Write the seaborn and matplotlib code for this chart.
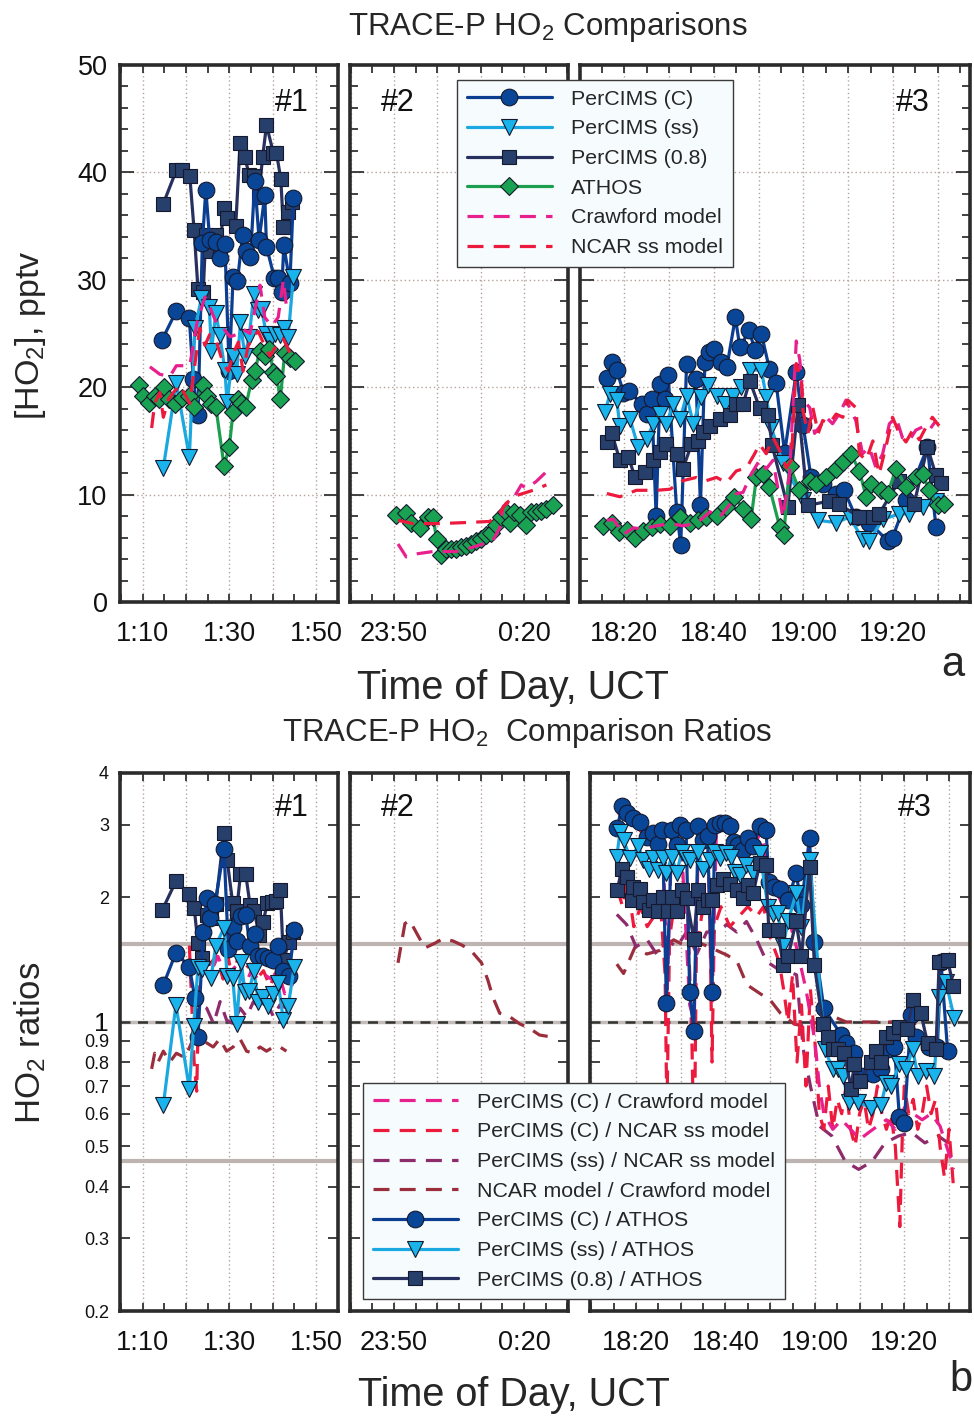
import numpy as np
import matplotlib
matplotlib.use('Agg')
import matplotlib.pyplot as plt
from matplotlib.lines import Line2D
from matplotlib.ticker import FixedLocator, FixedFormatter, MultipleLocator, NullLocator
import seaborn as sns

sns.set_style('ticks')
plt.rcParams['font.family'] = ['Liberation Sans', 'DejaVu Sans']
plt.rcParams['mathtext.default'] = 'regular'

# ---------------- top: HO2 mixing ratios (pptv) ----------------
# flight #1, minutes after 01:00
c1_t = [14.5, 17.8, 20.8, 21.7, 22.8, 23.8, 24.6, 25.5, 26.9, 27.8, 29.0, 30.0, 30.9, 31.9, 33.1, 33.8, 34.9,
        35.9, 36.9, 38.2, 38.6, 40.4, 41.3, 42.1, 42.6, 44.0, 44.8]
c1_v = [24.4, 27.1, 26.4, 20.8, 17.4, 33.4, 38.4, 33.7, 33.5, 32.0, 33.3, 21.5, 30.3, 29.9, 34.2, 32.7, 32.1,
        39.2, 33.7, 37.9, 33.1, 30.2, 30.2, 28.9, 33.2, 29.7, 37.6]
ss1_t = [14.8, 17.8, 20.8, 22.1, 23.6, 25.4, 25.9, 26.9, 27.8, 29.0, 29.5, 30.8, 31.7, 32.6, 33.6, 34.6, 35.7,
         36.7, 37.5, 38.5, 39.4, 40.5, 41.7, 42.6, 43.6, 44.8]
ss1_v = [12.5, 20.4, 13.5, 25.5, 28.3, 27.5, 23.4, 26.9, 24.9, 21.6, 18.6, 22.9, 21.2, 26.1, 22.9, 24.7, 28.7,
         27.2, 27.3, 25.0, 24.4, 25.0, 24.9, 25.5, 24.7, 30.3]
sq1_t = [14.8, 17.8, 19.2, 20.9, 21.9, 22.8, 24.0, 24.6, 25.5, 26.9, 27.8, 28.8, 29.4, 31.5, 32.5, 33.6, 34.6,
         35.8, 36.8, 37.7, 38.6, 40.2, 40.9, 41.9, 42.5, 43.6, 44.6]
sq1_v = [37.1, 40.2, 40.2, 39.7, 34.6, 29.1, 28.9, 34.2, 32.7, 34.2, 33.0, 36.7, 35.8, 35.0, 42.7, 41.4, 39.8,
         39.7, 37.7, 41.4, 44.4, 41.8, 41.8, 39.4, 34.9, 36.3, 37.2]
at1_t = [9.2, 10.2, 11.5, 12.8, 13.8, 14.9, 16.2, 17.5, 19.0, 20.8, 21.9, 24.0, 24.8, 25.8, 26.9, 28.8, 30.0,
         30.9, 32.1, 32.8, 33.8, 35.2, 35.9, 37.1, 38.2, 39.2, 40.2, 40.9, 41.8, 42.8, 44.0, 45.2]
at1_v = [20.2, 19.2, 18.5, 19.2, 18.9, 20.0, 18.9, 18.4, 19.0, 19.2, 18.2, 20.2, 19.2, 18.4, 18.2, 12.7, 14.4,
         17.7, 18.9, 18.5, 18.2, 20.7, 21.5, 23.4, 22.9, 23.6, 21.4, 21.0, 18.9, 23.2, 22.7, 22.4]
cr1_t = [11.7, 14.0, 16.3, 17.8, 20.9, 22.5, 24.4, 25.5, 27.1, 28.6, 30.2, 31.7, 33.2, 34.8, 36.3, 37.1, 38.2,
         39.8, 41.3, 42.5, 43.2, 44.4]
cr1_v = [21.9, 21.2, 21.0, 22.0, 22.0, 25.9, 28.4, 27.5, 25.9, 25.5, 24.7, 24.9, 25.4, 25.0, 27.9, 29.5, 26.5,
         25.7, 26.5, 30.0, 27.5, 27.2]
nc1_t = [12.1, 12.8, 14.0, 14.8, 16.0, 17.1, 18.6, 20.9, 22.1, 23.2, 24.4, 25.5, 27.1, 28.6, 29.8, 31.0, 32.1,
         33.2, 34.4, 35.5, 36.7, 37.8, 39.4, 40.9, 42.5, 44.0]
nc1_v = [16.2, 18.5, 19.5, 17.2, 18.9, 19.5, 20.2, 18.5, 22.2, 25.5, 23.9, 24.9, 24.2, 22.2, 21.5, 23.2, 24.2,
         21.5, 23.9, 24.7, 25.2, 24.2, 22.9, 23.9, 24.5, 23.2]

# flight #2, minutes after 23:00 (60 = 0:00)
at2_t = [50.5, 52.8, 54.0, 55.9, 57.8, 59.0, 59.8, 60.9, 62.1, 63.2, 64.4, 65.5, 66.7, 67.8, 69.0, 70.2, 71.3,
         72.5, 73.6, 74.8, 75.9, 76.7, 77.8, 79.0, 80.5, 81.7, 82.8, 84.0, 85.2, 86.7]
at2_v = [8.1, 8.3, 7.4, 6.9, 7.9, 7.9, 5.9, 4.4, 4.9, 4.9, 4.9, 5.1, 5.2, 5.4, 5.7, 5.9, 6.2,
         6.4, 7.2, 7.9, 8.4, 7.4, 8.4, 8.1, 7.2, 8.4, 8.4, 8.5, 8.7, 9.0]
cr2_t = [50.9, 52.8, 55.5, 59.0, 64.4, 68.2, 70.5, 72.8, 74.4, 75.2, 77.5, 79.4, 80.5, 82.8, 85.9]
cr2_v = [5.4, 4.2, 4.5, 4.7, 4.7, 5.1, 5.4, 5.7, 6.9, 8.9, 9.6, 10.9, 10.6, 11.2, 12.4]
nc2_t = [50.9, 54.4, 60.5, 66.7, 72.1, 74.4, 75.9, 78.2, 82.1, 85.2]
nc2_v = [7.6, 7.3, 7.3, 7.4, 7.5, 8.3, 9.2, 9.9, 10.4, 10.9]

# flight #3, minutes after 18:00
c3_t = [16.1, 17.2, 18.3, 19.8, 21.1, 23.9, 25.0, 26.1, 27.1, 28.0, 29.1, 29.8, 31.7, 32.6, 33.9, 36.0, 37.0,
        38.0, 39.0, 40.0, 41.7, 42.9, 44.8, 45.8, 47.9, 49.1, 50.6, 52.4, 53.9, 55.8, 58.4, 59.9, 61.7, 64.3,
        67.3, 69.1, 71.7, 74.7, 78.8, 79.9, 83.0, 87.7, 89.6]
c3_v = [20.9, 22.3, 21.6, 19.5, 19.6, 18.4, 17.5, 18.9, 8.0, 20.3, 18.9, 21.1, 8.4, 5.3, 22.2, 20.8, 9.0,
        22.3, 23.3, 23.6, 22.3, 21.9, 26.5, 23.7, 25.3, 23.5, 25.0, 21.7, 20.4, 13.9, 21.4, 16.5, 11.6, 11.0,
        10.1, 10.4, 7.9, 7.4, 5.7, 6.0, 9.5, 14.4, 7.0]
ss3_t = [15.7, 16.8, 18.3, 19.0, 21.3, 23.1, 25.0, 26.5, 28.0, 29.4, 30.9, 32.4, 33.9, 35.4, 37.2, 38.7, 40.6,
         42.4, 44.3, 46.1, 48.0, 50.6, 51.7, 52.8, 55.4, 59.9, 63.2, 67.3, 70.3, 73.2, 74.7, 77.7, 81.4, 83.6,
         86.6, 89.6]
ss3_v = [17.7, 19.4, 18.8, 16.4, 17.0, 14.4, 15.2, 16.6, 17.5, 16.6, 18.4, 17.0, 19.2, 16.6, 19.1, 20.2, 19.2,
         18.4, 19.2, 20.0, 21.6, 21.6, 19.1, 16.3, 12.9, 9.5, 7.6, 7.4, 7.9, 5.9, 5.7, 7.7, 8.2, 8.2,
         8.8, 9.4]
sq3_t = [16.1, 17.2, 19.0, 20.9, 22.4, 24.6, 26.5, 28.0, 29.4, 31.7, 33.1, 35.0, 36.5, 37.6, 39.1, 41.3, 43.5,
         45.0, 46.5, 48.0, 50.2, 52.1, 53.0, 56.5, 58.8, 61.0, 65.8, 68.0, 72.5, 75.5, 76.9, 81.4, 84.7, 87.7,
         89.6, 90.7]
sq3_v = [14.9, 15.7, 13.2, 13.5, 11.6, 12.1, 13.2, 14.0, 14.7, 13.8, 12.4, 14.7, 15.0, 15.8, 16.4, 17.0, 17.4,
         18.4, 18.4, 20.6, 18.1, 17.4, 14.6, 8.8, 18.3, 9.0, 9.4, 9.1, 7.9, 7.9, 8.2, 11.3, 9.1, 14.4,
         11.8, 11.1]
at3_t = [15.3, 17.2, 18.7, 20.5, 22.4, 24.2, 26.1, 28.0, 30.2, 32.4, 34.6, 36.5, 38.3, 40.6, 42.8, 44.6, 46.5,
         48.3, 49.5, 51.0, 52.4, 54.7, 55.6, 56.9, 59.1, 61.4, 62.9, 65.1, 67.3, 68.8, 70.6, 72.5, 74.0, 75.1,
         77.3, 78.8, 80.7, 82.9, 85.1, 86.6, 88.1, 90.0, 91.4]
at3_v = [7.1, 7.4, 6.5, 6.7, 6.0, 6.6, 7.0, 7.3, 7.1, 7.9, 7.4, 7.6, 7.9, 8.0, 8.8, 9.8, 8.7,
         7.7, 11.6, 11.9, 10.7, 7.0, 6.2, 12.7, 10.4, 11.3, 11.0, 11.6, 12.4, 13.0, 13.8, 12.2, 9.8, 11.0,
         10.4, 10.1, 12.4, 10.7, 11.6, 11.9, 10.4, 9.0, 9.1]
cr3_t = [16.1, 17.6, 19.8, 22.0, 24.2, 27.2, 30.2, 33.1, 36.1, 39.1, 41.3, 43.6, 45.0, 46.5, 48.3, 50.2, 51.7,
         53.2, 55.4, 56.9, 58.4, 59.2, 59.9, 61.4, 62.5, 63.6, 65.1, 66.5, 68.0, 69.5, 71.7, 73.2, 74.7, 76.2,
         77.7, 79.2, 80.7, 82.1, 83.6, 85.1, 86.6, 88.1, 89.6]
cr3_v = [7.6, 7.7, 6.3, 6.9, 6.8, 7.1, 7.3, 7.1, 7.3, 8.4, 7.9, 9.1, 10.1, 10.2, 11.9, 13.2, 12.4,
         13.2, 7.9, 11.9, 24.3, 22.5, 18.8, 18.1, 15.7, 16.3, 17.2, 16.6, 17.5, 18.8, 16.9, 13.8, 14.4, 12.5,
         13.8, 16.6, 17.2, 15.3, 15.0, 16.0, 16.3, 16.0, 16.9]
nc3_t = [16.1, 19.0, 22.7, 27.2, 30.2, 33.1, 36.1, 38.3, 40.6, 42.8, 45.0, 47.3, 49.1, 50.2, 51.7, 53.2, 54.7,
         56.2, 57.3, 58.4, 59.5, 59.9, 61.0, 62.1, 63.3, 64.3, 65.8, 67.3, 68.8, 69.9, 71.7, 72.5, 74.0, 75.5,
         76.9, 78.4, 79.9, 81.4, 82.9, 84.4, 85.9, 87.4, 88.8, 90.3]
nc3_v = [10.1, 9.8, 10.4, 10.4, 10.5, 11.3, 11.6, 11.3, 11.6, 11.1, 12.2, 12.5, 13.8, 14.7, 13.8, 15.3, 14.1,
         12.5, 13.2, 22.2, 20.6, 17.8, 15.7, 18.1, 15.7, 16.9, 16.6, 17.5, 17.2, 18.8, 18.1, 13.8, 13.2, 15.0,
         11.9, 14.4, 17.2, 15.7, 14.9, 16.0, 15.1, 16.3, 17.2, 16.4]

# ---------------- bottom: ratios ----------------
rc1_t = [14.8, 17.7, 20.8, 22.1, 22.8, 24.0, 24.8, 25.5, 26.7, 28.8, 29.8, 30.9, 31.8, 32.8, 33.8, 34.8, 36.0,
         36.7, 37.8, 39.0, 40.2, 41.3, 42.5, 43.8, 45.0]
rc1_v = [1.23, 1.47, 1.36, 1.14, 0.92, 1.65, 1.99, 1.78, 1.93, 2.62, 1.50, 1.70, 1.57, 1.80, 1.81, 1.53, 1.63,
         1.44, 1.44, 1.43, 1.41, 1.53, 1.33, 1.29, 1.67]
rss1_t = [14.8, 17.7, 20.8, 21.8, 22.8, 23.8, 25.8, 26.9, 28.8, 29.5, 30.8, 31.7, 32.8, 33.6, 34.6, 35.7, 36.7,
          37.8, 39.0, 40.2, 41.3, 42.5, 43.6, 45.0]
rss1_v = [0.63, 1.10, 0.69, 0.98, 1.36, 1.34, 1.28, 1.53, 1.69, 1.29, 1.28, 0.99, 1.40, 1.18, 1.19, 1.33, 1.12,
          1.15, 1.09, 1.17, 1.24, 1.01, 1.09, 1.36]
rsq1_t = [14.6, 17.7, 20.8, 21.9, 22.8, 23.8, 24.8, 25.9, 26.9, 28.8, 29.5, 30.8, 31.7, 32.6, 33.8, 34.8, 35.8,
          36.9, 37.8, 38.8, 39.8, 40.8, 41.8, 42.5, 43.8, 44.8]
rsq1_v = [1.87, 2.19, 2.04, 1.89, 1.55, 1.43, 1.81, 1.78, 1.93, 2.87, 2.47, 1.94, 1.85, 2.28, 2.28, 1.92, 1.85,
          1.62, 1.74, 1.94, 1.95, 1.96, 2.09, 1.41, 1.56, 1.65]
rcc1_t = [21.4, 22.8, 24.4, 25.9, 27.4, 29.0, 30.5, 32.0, 33.6, 35.1, 36.6, 38.2, 39.7, 41.3, 42.8, 44.4, 45.4]
rcc1_v = [1.38, 1.33, 1.47, 1.33, 1.44, 1.31, 1.33, 1.38, 1.22, 1.33, 1.27, 1.30, 1.27, 1.33, 1.17, 1.22, 1.30]
rcn1_t = [20.8, 21.9, 22.5, 23.1, 24.3, 25.5, 27.0, 28.6, 29.7, 30.9, 32.0, 33.2, 34.8, 36.3, 37.9, 39.4, 41.0,
          42.5, 44.1]
rcn1_v = [1.53, 0.80, 0.68, 1.33, 1.44, 1.38, 1.44, 1.27, 1.44, 1.25, 1.44, 1.33, 1.38, 1.27, 1.33, 1.22, 1.33,
          1.27, 1.33]
rsn1_t = [21.8, 23.3, 24.8, 26.4, 27.9, 29.4, 31.0, 32.5, 34.0, 35.6, 37.1, 38.6, 40.2, 41.7, 43.2]
rsn1_v = [0.99, 1.10, 1.08, 0.99, 1.12, 1.01, 0.99, 1.08, 1.03, 1.12, 1.08, 1.12, 1.03, 1.10, 1.08]
rnc1_t = [12.1, 12.8, 13.6, 14.8, 16.3, 17.8, 19.8, 21.7, 23.2, 24.8, 26.3, 27.8, 29.4, 30.9, 32.5, 34.0, 35.5,
          37.1, 38.6, 40.2, 41.7, 43.2]
rnc1_v = [0.77, 0.84, 0.80, 0.85, 0.80, 0.84, 0.82, 0.91, 0.91, 0.89, 0.87, 0.91, 0.85, 0.87, 0.91, 0.85, 0.84,
          0.87, 0.85, 0.87, 0.87, 0.85]

rnc2_t = [50.9, 52.5, 53.6, 55.2, 57.1, 59.4, 61.3, 63.6, 65.9, 68.2, 70.2, 71.7, 72.8, 74.4, 76.7, 79.0, 81.3,
          83.6, 86.3]
rnc2_v = [1.39, 1.73, 1.76, 1.64, 1.51, 1.55, 1.59, 1.57, 1.53, 1.47, 1.39, 1.26, 1.15, 1.05, 1.03, 0.99, 0.965,
          0.93, 0.92]

rc3_t = [15.8, 16.8, 17.9, 19.4, 20.9, 22.4, 23.7, 25.0, 25.9, 26.8, 28.0, 29.1, 29.8, 31.2, 32.0, 32.9, 33.9,
         35.0, 36.0, 37.0, 37.6, 38.7, 39.9, 41.0, 41.9, 42.8, 43.9, 45.1, 46.2, 47.7, 49.1, 49.7, 50.9, 52.1,
         54.0, 55.8, 57.0, 58.8, 59.9, 62.0, 65.9, 67.0, 68.8, 70.3, 72.9, 74.8, 76.3, 77.8, 78.9, 80.0, 81.5,
         82.6, 85.6, 87.4, 88.2, 89.7]
rc3_v = [2.94, 3.32, 3.20, 3.11, 3.05, 2.80, 2.87, 2.70, 2.91, 1.11, 2.91, 2.68, 2.99, 2.91, 1.18, 0.95, 2.97,
         2.75, 2.81, 1.18, 2.99, 3.02, 3.02, 2.97, 2.73, 2.68, 2.61, 2.78, 2.66, 2.97, 2.91, 2.18, 2.12, 2.10,
         1.97, 2.29, 1.92, 2.79, 1.56, 1.08, 0.93, 0.89, 0.84, 0.74, 0.75, 0.77, 0.86, 0.87, 0.59, 0.57, 1.04,
         0.92, 0.87, 0.87, 1.40, 0.85]
rss3_t = [15.7, 16.4, 17.2, 18.7, 20.5, 21.6, 22.8, 23.9, 25.0, 26.1, 26.8, 28.0, 29.1, 30.2, 31.2, 32.0, 33.9,
          35.0, 36.5, 37.6, 38.7, 40.2, 41.3, 42.1, 43.2, 44.7, 46.2, 47.7, 49.5, 50.6, 51.7, 52.9, 54.0, 55.8,
          57.0, 58.8, 62.2, 64.0, 65.1, 66.2, 67.7, 69.6, 72.6, 74.8, 75.9, 77.0, 78.9, 80.4, 81.9, 83.0, 84.8,
          86.7, 87.8, 89.3, 91.2]
rss3_v = [2.51, 2.88, 2.75, 2.49, 2.66, 2.47, 2.35, 2.49, 2.33, 2.49, 2.29, 2.51, 2.29, 2.58, 2.49, 2.47, 2.58,
          2.35, 2.47, 2.58, 2.49, 2.56, 2.51, 2.31, 2.27, 2.40, 2.29, 2.56, 1.90, 1.82, 1.83, 1.53, 1.75, 2.05,
          1.70, 2.47, 0.86, 0.77, 0.77, 0.74, 0.64, 0.64, 0.62, 0.63, 0.71, 0.70, 0.79, 0.77, 0.86, 0.74, 0.76,
          0.74, 1.15, 1.25, 1.02]
rsq3_t = [15.8, 16.8, 17.9, 19.1, 19.4, 20.9, 21.6, 22.8, 23.9, 25.0, 26.1, 27.2, 28.0, 29.1, 30.2, 31.3, 32.9,
          33.9, 35.0, 36.2, 36.9, 38.0, 39.5, 41.0, 42.5, 44.0, 45.1, 46.2, 47.7, 49.0, 49.7, 51.7, 52.9, 54.0,
          55.8, 57.0, 58.8, 59.9, 61.8, 62.9, 64.0, 65.1, 66.6, 68.1, 68.8, 70.0, 72.6, 73.7, 74.8, 75.9, 77.4,
          78.9, 80.7, 81.9, 83.7, 85.2, 87.1, 87.8, 89.7, 91.0]
rsq3_v = [2.08, 2.35, 2.24, 1.97, 2.12, 2.10, 1.95, 1.87, 1.97, 1.85, 2.01, 1.85, 2.01, 1.85, 2.08, 1.99, 1.59,
          2.08, 1.90, 1.97, 1.97, 2.14, 2.22, 2.16, 2.08, 1.99, 2.14, 2.05, 2.42, 2.39, 1.67, 1.67, 1.37, 1.44,
          1.75, 1.44, 2.37, 1.37, 0.99, 0.92, 0.86, 0.86, 0.84, 0.69, 0.79, 0.72, 0.80, 0.85, 0.80, 0.92, 0.94,
          0.97, 0.96, 1.13, 1.05, 0.89, 0.86, 1.40, 1.41, 1.22]
rcc3_t = [16.0, 18.0, 20.0, 22.0, 24.0, 26.0, 27.0, 28.0, 30.0, 32.0, 33.0, 34.0, 36.0, 37.0, 38.0, 40.0, 42.0,
          44.0, 46.0, 48.0, 50.0, 52.0, 54.0, 56.0, 58.0, 60.0, 61.0, 62.0, 64.0, 66.0, 68.0, 70.0, 72.0, 74.0,
          76.0, 78.0, 80.0, 82.0, 84.0, 86.0, 88.0, 90.0, 91.0]
rcc3_v = [3.2, 3.1, 3.0, 2.8, 2.9, 2.8, 1.2, 2.9, 2.9, 1.1, 1.0, 2.9, 2.8, 1.1, 3.0, 3.0, 2.7,
          2.7, 2.6, 2.9, 2.2, 2.0, 1.8, 1.5, 1.2, 0.9, 0.7, 0.6, 0.55, 0.58, 0.55, 0.52, 0.54, 0.56,
          0.58, 0.55, 0.62, 0.60, 0.58, 0.60, 0.56, 0.48, 0.44]
rcn3_t = [15.8, 17.0, 18.0, 19.5, 21.0, 22.5, 24.0, 25.5, 26.5, 26.9, 27.5, 28.5, 30.0, 31.5, 32.5, 33.0, 33.5,
          35.0, 36.5, 37.0, 37.5, 39.0, 41.0, 43.0, 45.0, 47.0, 48.5, 50.0, 52.0, 53.0, 54.0, 55.0, 56.0, 57.0,
          58.0, 59.0, 60.0, 61.0, 62.0, 63.0, 64.0, 65.0, 66.0, 67.0, 68.0, 69.0, 70.0, 71.0, 72.0, 73.0, 74.0,
          75.0, 76.0, 77.0, 78.0, 79.0, 79.6, 80.0, 81.0, 82.0, 83.0, 84.0, 85.0, 86.0, 87.0, 88.0, 89.0, 90.0,
          91.0]
rcn3_v = [2.1, 1.9, 2.2, 1.7, 1.9, 1.7, 1.8, 1.9, 1.3, 0.6, 1.6, 1.9, 1.8, 1.9, 0.9, 0.45, 1.5,
          1.9, 1.8, 0.8, 1.7, 1.9, 1.7, 1.8, 1.9, 1.8, 1.9, 1.6, 1.4, 1.2, 1.0, 1.3, 0.8, 1.1,
          0.7, 1.2, 0.9, 0.6, 0.55, 0.7, 0.55, 0.65, 0.6, 0.7, 0.55, 0.5, 0.6, 0.65, 0.55, 0.6, 0.7,
          0.6, 0.55, 0.6, 0.5, 0.32, 0.55, 0.7, 0.6, 0.65, 0.55, 0.6, 0.7, 0.6, 0.65, 0.5, 0.42, 0.55,
          0.4]
rsn3_t = [15.7, 17.9, 20.0, 22.5, 24.6, 26.8, 29.1, 31.3, 33.6, 35.8, 38.0, 40.3, 42.5, 44.7, 47.0, 49.2, 51.4,
          53.7, 55.9, 57.4, 59.0, 61.0, 63.8, 66.8, 69.8, 72.8, 75.7, 78.7, 81.7, 84.6, 87.6, 89.8]
rsn3_v = [1.82, 1.72, 1.52, 1.58, 1.46, 1.58, 1.52, 1.65, 1.46, 1.65, 1.65, 1.72, 1.65, 1.75, 1.58, 1.40, 1.35,
          1.33, 1.30, 0.86, 0.70, 0.56, 0.53, 0.46, 0.44, 0.46, 0.51, 0.53, 0.54, 0.51, 0.53, 0.51]
rnc3_t = [15.7, 17.2, 19.8, 22.4, 25.4, 28.4, 31.4, 34.4, 37.4, 40.4, 42.6, 44.8, 47.8, 50.0, 52.3, 55.3, 58.2,
          61.2, 64.2, 67.0, 71.5, 75.2, 79.7, 82.7]
rnc3_v = [1.38, 1.31, 1.52, 1.46, 1.49, 1.58, 1.52, 1.55, 1.50, 1.45, 1.40, 1.23, 1.17, 1.13, 1.05, 0.99, 0.97,
          1.01, 1.03, 1.00, 1.00, 1.00, 1.00, 0.99]

# ---------------- styling ----------------
col_c, face_c = '#0b3d91', '#0a4697'
col_ss, face_ss = '#1aa8e0', '#1ab4ec'
col_sq, face_sq = '#27305f', '#273f6b'
col_at, face_at = '#1b9f4f', '#18a251'
col_cr = '#e8208e'
col_nc = '#ec1a3d'
col_sn = '#8e2b6b'
col_ncr = '#9b2e3c'
grid_col = '#b5a39b'
dash = (0, (5, 3.2))
MS_C, MS_SS, MS_SQ, MS_AT = 12, 12, 10.5, 9.5


def draw(ax, t, v, color, marker=None, face=None, ms=10, dashed=False, z=3):
    kw = dict(x=t, y=v, ax=ax, color=color, linewidth=2.3, sort=False, estimator=None, zorder=z)
    if marker is not None:
        kw.update(marker=marker, markersize=ms, markerfacecolor=face,
                  markeredgecolor='#15192e', markeredgewidth=0.8)
    if dashed:
        kw.update(linestyle=dash)
    sns.lineplot(**kw)


fig = plt.figure(figsize=(9.74, 14.16), dpi=100)
W, H = 974.0, 1416.0


def axes_px(x0, x1, y0, y1):
    return fig.add_axes([x0 / W, 1 - y1 / H, (x1 - x0) / W, (y1 - y0) / H])


top = [axes_px(120, 338, 65, 602), axes_px(350, 568, 65, 602), axes_px(580, 970, 65, 602)]
bot = [axes_px(120, 338, 773, 1311), axes_px(350, 568, 773, 1311), axes_px(590, 970, 773, 1311)]

xlims_top = [(4.8, 55.1), (39.8, 90.2), (10.1, 97.2)]
xlims_bot = [(4.8, 55.1), (39.8, 90.2), (9.7, 94.7)]
majors = [[10, 20, 30, 40, 50], [40, 50, 60, 70, 80, 90], [10, 20, 30, 40, 50, 60, 70, 80, 90]]
labels = [['1:10', '', '1:30', '', '1:50'], ['', '23:50', '', '', '0:20', ''],
          ['', '18:20', '', '18:40', '', '19:00', '', '19:20', '']]


def style_axis(ax, i, xl):
    ax.set_xlim(xl)
    ax.xaxis.set_major_locator(FixedLocator(majors[i]))
    ax.xaxis.set_major_formatter(FixedFormatter(labels[i]))
    ax.xaxis.set_minor_locator(MultipleLocator(5))
    ax.grid(axis='x', which='major', color=grid_col, linestyle=(0, (1, 2)), linewidth=1)
    ax.tick_params(which='both', direction='in', top=True, right=True, length=6, width=1.3,
                   color='#333333', labelsize=19.5, pad=9, labelcolor='#111111')
    ax.tick_params(axis='x', which='both', pad=14)
    ax.tick_params(axis='y', which='major', length=10)
    for s in ax.spines.values():
        s.set_linewidth(2.6)
        s.set_color('#2b2b2b')
    ax.set_xlabel('')
    ax.set_ylabel('')
    ax.set_facecolor('white')


# top panels
for i, ax in enumerate(top):
    if i == 0:
        draw(ax, sq1_t, sq1_v, col_sq, 's', face_sq, MS_SQ)
        draw(ax, c1_t, c1_v, col_c, 'o', face_c, MS_C)
        draw(ax, ss1_t, ss1_v, col_ss, 'v', face_ss, MS_SS)
        draw(ax, at1_t, at1_v, col_at, 'D', face_at, MS_AT)
        draw(ax, cr1_t, cr1_v, col_cr, dashed=True, z=4)
        draw(ax, nc1_t, nc1_v, col_nc, dashed=True, z=4)
    elif i == 1:
        draw(ax, at2_t, at2_v, col_at, 'D', face_at, MS_AT)
        draw(ax, cr2_t, cr2_v, col_cr, dashed=True, z=4)
        draw(ax, nc2_t, nc2_v, col_nc, dashed=True, z=4)
    else:
        draw(ax, c3_t, c3_v, col_c, 'o', face_c, MS_C)
        draw(ax, ss3_t, ss3_v, col_ss, 'v', face_ss, MS_SS)
        draw(ax, sq3_t, sq3_v, col_sq, 's', face_sq, MS_SQ)
        draw(ax, at3_t, at3_v, col_at, 'D', face_at, MS_AT)
        draw(ax, cr3_t, cr3_v, col_cr, dashed=True, z=4)
        draw(ax, nc3_t, nc3_v, col_nc, dashed=True, z=4)
    style_axis(ax, i, xlims_top[i])
    ax.set_ylim(0, 50)
    ax.yaxis.set_major_locator(FixedLocator([0, 10, 20, 30, 40, 50]))
    ax.yaxis.set_minor_locator(MultipleLocator(2))
    ax.grid(axis='y', which='major', color=grid_col, linestyle=(0, (1, 2)), linewidth=1)
    if i > 0:
        ax.tick_params(axis='y', labelleft=False)
    ax.text([0.789, 0.22, 0.854][i], 0.929, ['#1', '#2', '#3'][i], transform=ax.transAxes,
            ha='center', va='center', fontsize=22, color='#111111')

# bottom panels
for i, ax in enumerate(bot):
    ax.set_yscale('log')
    ax.axhline(1.54, color='#bdb3b0', linewidth=3, zorder=1)
    ax.axhline(0.46, color='#bdb3b0', linewidth=3, zorder=1)
    ax.axhline(1.0, color='#c4bcba', linewidth=2.5, zorder=1)
    ax.axhline(1.0, color='#333333', linewidth=1.8, linestyle=(0, (4, 3)), zorder=1.5)
    if i == 0:
        draw(ax, rnc1_t, rnc1_v, col_ncr, dashed=True, z=2)
        draw(ax, rsn1_t, rsn1_v, col_sn, dashed=True, z=2)
        draw(ax, rcn1_t, rcn1_v, col_nc, dashed=True, z=2)
        draw(ax, rcc1_t, rcc1_v, col_cr, dashed=True, z=2)
        draw(ax, rsq1_t, rsq1_v, col_sq, 's', face_sq, MS_SQ)
        draw(ax, rc1_t, rc1_v, col_c, 'o', face_c, MS_C)
        draw(ax, rss1_t, rss1_v, col_ss, 'v', face_ss, MS_SS)
    elif i == 1:
        draw(ax, rnc2_t, rnc2_v, col_ncr, dashed=True, z=2)
    else:
        draw(ax, rnc3_t, rnc3_v, col_ncr, dashed=True, z=2)
        draw(ax, rsn3_t, rsn3_v, col_sn, dashed=True, z=2)
        draw(ax, rcn3_t, rcn3_v, col_nc, dashed=True, z=2)
        draw(ax, rcc3_t, rcc3_v, col_cr, dashed=True, z=2)
        draw(ax, rc3_t, rc3_v, col_c, 'o', face_c, MS_C)
        draw(ax, rss3_t, rss3_v, col_ss, 'v', face_ss, MS_SS)
        draw(ax, rsq3_t, rsq3_v, col_sq, 's', face_sq, MS_SQ)
    style_axis(ax, i, xlims_bot[i])
    ax.set_ylim(0.2, 4)
    yt = [0.2, 0.3, 0.4, 0.5, 0.6, 0.7, 0.8, 0.9, 1, 2, 3, 4]
    ax.yaxis.set_major_locator(FixedLocator(yt))
    ax.yaxis.set_major_formatter(FixedFormatter([str(v) for v in yt]))
    ax.yaxis.set_minor_locator(NullLocator())
    ax.tick_params(axis='y', which='major', length=7, labelsize=13, pad=8)
    if i > 0:
        ax.tick_params(axis='y', labelleft=False)
    else:
        for lbl in ax.get_yticklabels():
            if lbl.get_text() == '1':
                lbl.set_fontsize(19)
    ax.text([0.789, 0.22, 0.855][i], 0.935, ['#1', '#2', '#3'][i], transform=ax.transAxes,
            ha='center', va='center', fontsize=22, color='#111111')

# legends
def h(color, marker=None, face=None, ms=10, dashed=False):
    if marker:
        return Line2D([], [], color=color, lw=2.3, marker=marker, ms=ms, mfc=face,
                      mec='#15192e', mew=0.8)
    return Line2D([], [], color=color, lw=2.3, linestyle=dash)


top_handles = [h(col_c, 'o', face_c, MS_C), h(col_ss, 'v', face_ss, MS_SS), h(col_sq, 's', face_sq, MS_SQ),
               h(col_at, 'D', face_at, MS_AT), h(col_cr), h(col_nc)]
top_labels = ['PerCIMS (C)', 'PerCIMS (ss)', 'PerCIMS (0.8)', 'ATHOS', 'Crawford model', 'NCAR ss model']
bot_handles = [h(col_cr), h(col_nc), h(col_sn), h(col_ncr),
               h(col_c, 'o', face_c, MS_C), h(col_ss, 'v', face_ss, MS_SS), h(col_sq, 's', face_sq, MS_SQ)]
bot_labels = ['PerCIMS (C) / Crawford model', 'PerCIMS (C) / NCAR ss model', 'PerCIMS (ss) / NCAR ss model',
              'NCAR model / Crawford model', 'PerCIMS (C) / ATHOS', 'PerCIMS (ss) / ATHOS',
              'PerCIMS (0.8) / ATHOS']

for hs, ls, anchor in [(top_handles, top_labels, (457 / W, 1 - 80 / H)),
                       (bot_handles, bot_labels, (363 / W, 1 - 1083 / H))]:
    leg = fig.legend(hs, ls, loc='upper left', bbox_to_anchor=anchor, fontsize=15.4, frameon=True,
                     fancybox=False, handlelength=4.0, handletextpad=0.9, labelspacing=0.5,
                     borderpad=0.45, borderaxespad=0, framealpha=1)
    leg.get_frame().set_facecolor('#f6fcfd')
    leg.get_frame().set_edgecolor('#3a3a3a')
    leg.get_frame().set_linewidth(1.0)

# titles and labels
fig.text(548 / W, 1 - 27 / H, 'TRACE-P HO$_2$ Comparisons', ha='center', va='center', fontsize=22.5)
fig.text(527 / W, 1 - 733 / H, 'TRACE-P HO$_2$  Comparison Ratios', ha='center', va='center', fontsize=22.5)
fig.text(513 / W, 1 - 688 / H, 'Time of Day, UCT', ha='center', va='center', fontsize=28.5)
fig.text(514 / W, 1 - 1395 / H, 'Time of Day, UCT', ha='center', va='center', fontsize=28.5)
fig.text(953 / W, 1 - 665 / H, 'a', ha='center', va='center', fontsize=30)
fig.text(961 / W, 1 - 1380 / H, 'b', ha='center', va='center', fontsize=30)
fig.text(30 / W, 1 - 335 / H, '[HO$_2$], pptv', ha='center', va='center', rotation=90, fontsize=24.5)
fig.text(30 / W, 1 - 1043 / H, 'HO$_2$ ratios', ha='center', va='center', rotation=90, fontsize=25)

fig.savefig('out.png', dpi=100)
